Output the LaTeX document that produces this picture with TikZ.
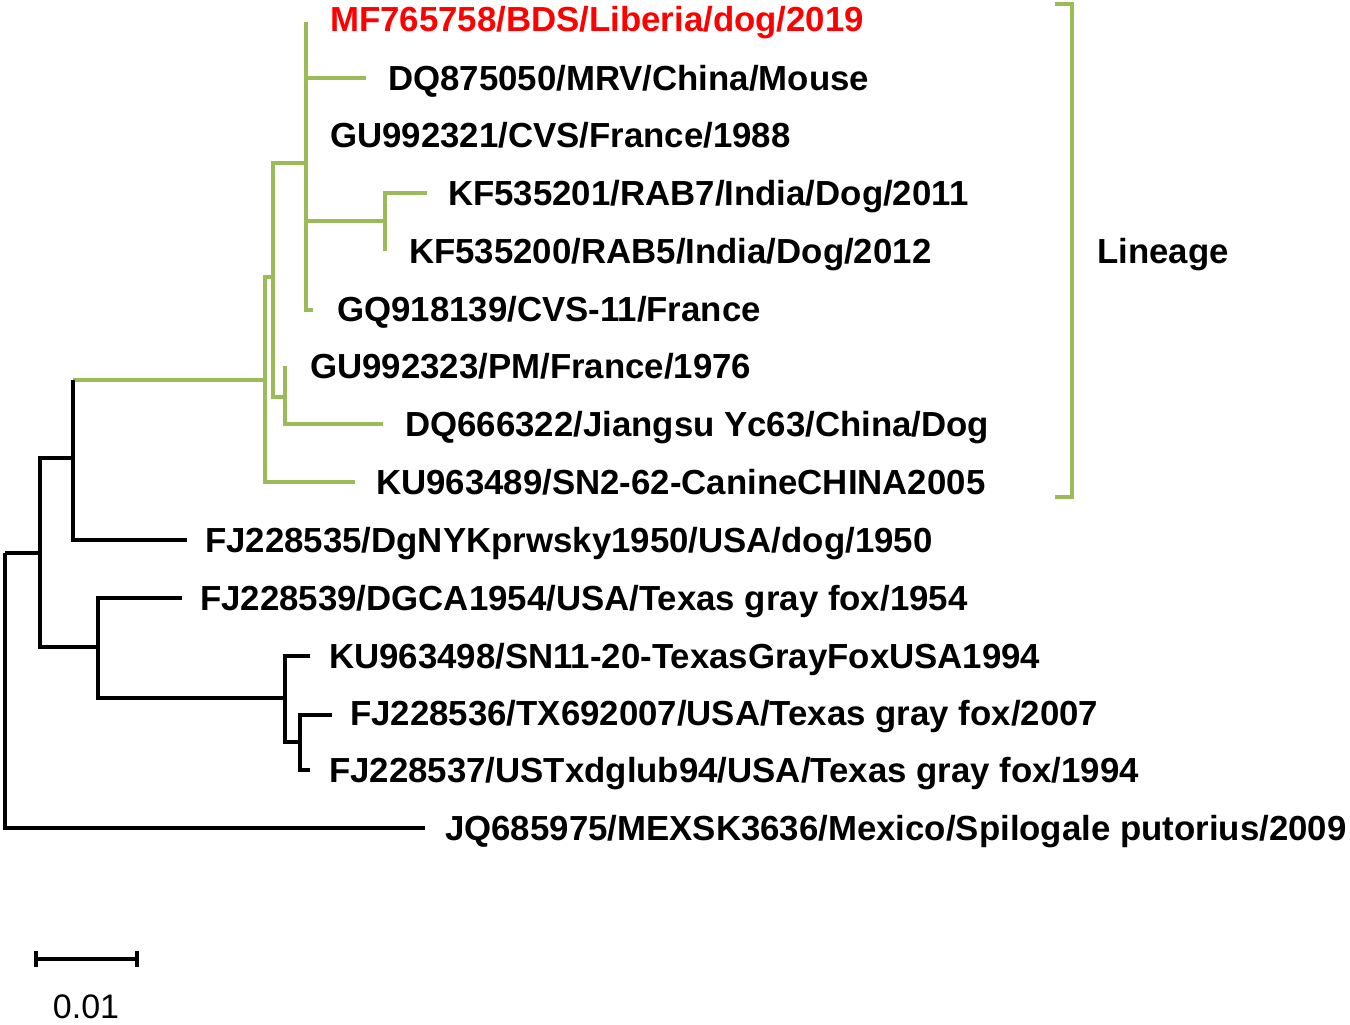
\documentclass[tikz,border=0pt]{standalone}
\usepackage{fontspec}
\setmainfont{Liberation Sans}
\definecolor{lgreen}{RGB}{155,187,89}
\begin{document}
\begin{tikzpicture}[x=1pt,y=-1pt,
  gbr/.style={draw=lgreen, line width=4.5pt},
  bbr/.style={draw=black, line width=4pt},
  lab/.style={anchor=base west, inner sep=0pt, font=\fontsize{34.8}{40}\selectfont\bfseries},
  clab/.style={anchor=base west, inner sep=0pt, font=\fontsize{34.8}{40}\selectfont\bfseries, text=red}]
\useasboundingbox (0,0) rectangle (1350,1025);
% internal nodes
\coordinate (r) at (5,553);
\coordinate (c1) at (40,553);
\coordinate (c2) at (73,458);
\coordinate (c3) at (98,647);
\coordinate (c4) at (285,698);
\coordinate (c5) at (300,742);
\coordinate (g1) at (265,380);
\coordinate (g2) at (273,277);
\coordinate (g3) at (306,163);
\coordinate (g4) at (385,221);
\coordinate (g5) at (285,397);
% leaf ends
\coordinate (eMF) at (306,22);
\coordinate (eDQa) at (366,78);
\coordinate (eGUa) at (306,135);
\coordinate (eKFa) at (427,193);
\coordinate (eKFb) at (385,251);
\coordinate (eGQ) at (313,310);
\coordinate (eGUb) at (285,366);
\coordinate (eDQb) at (383,424);
\coordinate (eKUa) at (355,482);
\coordinate (eFJa) at (187,540);
\coordinate (eFJb) at (182,598);
\coordinate (eKUb) at (310,656);
\coordinate (eFJc) at (332,715);
\coordinate (eFJd) at (310,770);
\coordinate (eJQ) at (425,828);
% labels
\node[clab] (MF) at (330,32) {MF765758/BDS/Liberia/dog/2019};
\node[lab] (DQa) at (388,90) {DQ875050/MRV/China/Mouse};
\node[lab] (GUa) at (330,147) {GU992321/CVS/France/1988};
\node[lab] (KFa) at (448,205) {KF535201/RAB7/India/Dog/2011};
\node[lab] (KFb) at (409,263) {KF535200/RAB5/India/Dog/2012};
\node[lab] (GQ) at (337,321) {GQ918139/CVS-11/France};
\node[lab] (GUb) at (310,378) {GU992323/PM/France/1976};
\node[lab] (DQb) at (405,436) {DQ666322/Jiangsu Yc63/China/Dog};
\node[lab] (KUa) at (376,494) {KU963489/SN2-62-CanineCHINA2005};
\node[lab] (FJa) at (205,552) {FJ228535/DgNYKprwsky1950/USA/dog/1950};
\node[lab] (FJb) at (200,610) {FJ228539/DGCA1954/USA/Texas gray fox/1954};
\node[lab] (KUb) at (329,668) {KU963498/SN11-20-TexasGrayFoxUSA1994};
\node[lab] (FJc) at (350,725) {FJ228536/TX692007/USA/Texas gray fox/2007};
\node[lab] (FJd) at (329,782) {FJ228537/USTxdglub94/USA/Texas gray fox/1994};
\node[lab] (JQ) at (445,840) {JQ685975/MEXSK3636/Mexico/Spilogale putorius/2009};
% green clade
\draw[gbr] (c2 |- g1) -- (g1);
\draw[gbr] (g1) |- (g2);
\draw[gbr] (g1) |- (eKUa);
\draw[gbr] (g2) |- (g3);
\draw[gbr] (g2) |- (g5);
\draw[gbr] (g3) |- (eMF);
\draw[gbr] (g3) |- (eDQa);
\draw[gbr] (g3) |- (eGUa);
\draw[gbr] (g3) |- (g4);
\draw[gbr] (g3) |- (eGQ);
\draw[gbr] (g4) |- (eKFa);
\draw[gbr] (g4) |- (eKFb);
\draw[gbr] (g5) |- (eGUb);
\draw[gbr] (g5) |- (eDQb);
% black part
\draw[bbr] (c2) -- (c2 |- g1);
\draw[bbr] (r) |- (c1);
\draw[bbr] (r) |- (eJQ);
\draw[bbr] (c1) |- (c2);
\draw[bbr] (c1) |- (c3);
\draw[bbr] (c2) |- (eFJa);
\draw[bbr] (c3) |- (eFJb);
\draw[bbr] (c3) |- (c4);
\draw[bbr] (c4) |- (eKUb);
\draw[bbr] (c4) |- (c5);
\draw[bbr] (c5) |- (eFJc);
\draw[bbr] (c5) |- (eFJd);
% bracket
\coordinate (bt) at (1055,4);
\coordinate (bb) at (1055,497);
\draw[gbr] (bt) -| (1072,497) -- (bb);
\node[lab, anchor=west] (lin) at (1097,255) {Lineage};
% scale bar
\coordinate (s1) at (36,959);
\coordinate (s2) at (137,959);
\draw[bbr] (s1) -- (s2);
\draw[bbr] (36,951) -- (36,967);
\draw[bbr] (137,951) -- (137,967);
\node[anchor=base, inner sep=0pt, font=\fontsize{34}{40}\selectfont] (sl) at (86,1018) {0.01};
\end{tikzpicture}
\end{document}
